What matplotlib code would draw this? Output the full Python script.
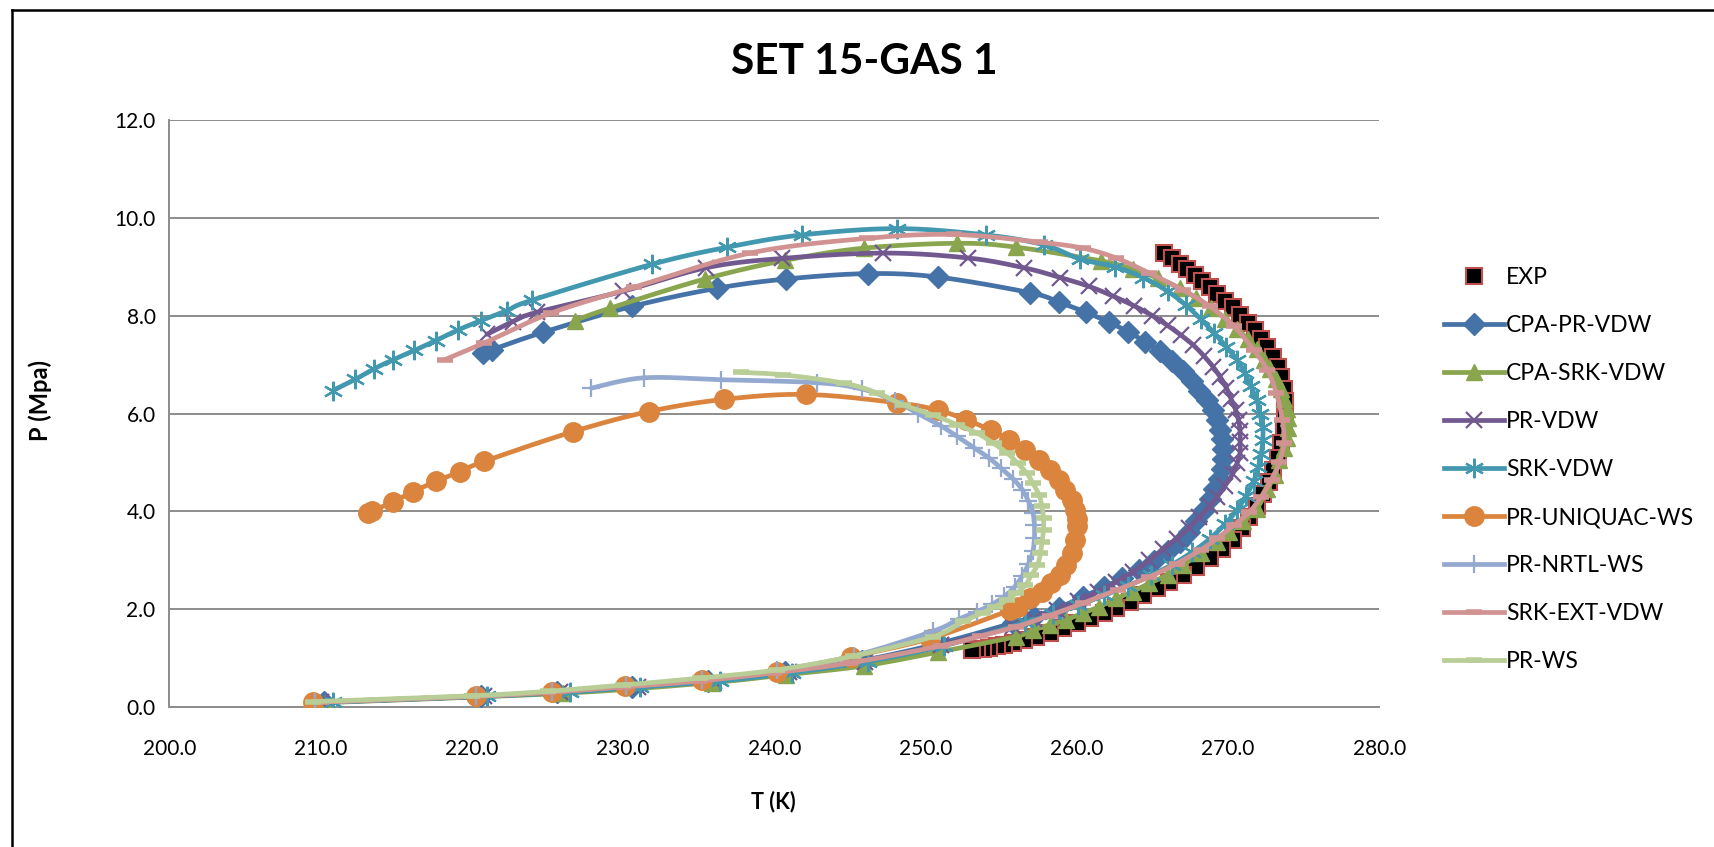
import numpy as np
import matplotlib
matplotlib.use('Agg')
import matplotlib.pyplot as plt
from matplotlib.lines import Line2D

plt.rcParams['font.family'] = ['Lato', 'DejaVu Sans']

# ---- data (T in K, P in MPa) ----
t_exp = [265.8, 266.3, 266.8, 267.3, 267.8, 268.3, 268.8, 269.3, 269.8, 270.3,
         270.8, 271.3, 271.8, 272.2, 272.6, 273.0, 273.3, 273.5, 273.7, 273.8,
         273.8, 273.7, 273.5, 273.3, 273.0, 272.7, 272.3, 271.9, 271.4, 270.9,
         270.3, 269.6, 268.8, 267.9, 267.0, 266.1, 265.3, 264.4, 263.5, 262.6,
         261.8, 260.9, 260.0, 259.1, 258.2, 257.3, 256.5, 255.8, 255.2, 254.7,
         254.2, 253.8, 253.4, 253.1]
p_exp = [9.28, 9.17, 9.06, 8.95, 8.83, 8.71, 8.58, 8.45, 8.31, 8.17,
         8.02, 7.86, 7.70, 7.53, 7.35, 7.15, 6.95, 6.74, 6.50, 6.25,
         6.00, 5.70, 5.40, 5.10, 4.85, 4.60, 4.35, 4.10, 3.88, 3.65,
         3.42, 3.22, 3.04, 2.87, 2.70, 2.56, 2.43, 2.29, 2.15, 2.03,
         1.92, 1.81, 1.71, 1.61, 1.51, 1.44, 1.37, 1.31, 1.27, 1.24,
         1.21, 1.19, 1.18, 1.17]

t_cpa_pr = [220.7, 221.3, 224.7, 230.6, 236.2, 240.8, 246.2, 250.8, 256.9, 258.8,
            260.6, 262.1, 263.4, 264.5, 265.5, 266.3, 267.0, 267.6, 268.1, 268.6,
            269.0, 269.3, 269.5, 269.6, 269.7, 269.7, 269.6, 269.4, 269.1, 268.8,
            268.4, 267.9, 267.4, 266.8, 266.0, 265.1, 264.1, 263.0, 261.8, 260.4,
            258.8, 257.2, 255.8, 250.9, 245.8, 240.7, 235.6, 230.6, 225.6, 220.6,
            210.2]
p_cpa_pr = [7.23, 7.30, 7.66, 8.19, 8.56, 8.75, 8.86, 8.79, 8.47, 8.28,
            8.07, 7.87, 7.67, 7.47, 7.27, 7.07, 6.87, 6.67, 6.47, 6.27,
            6.07, 5.87, 5.67, 5.47, 5.27, 5.07, 4.87, 4.67, 4.45, 4.25,
            4.03, 3.80, 3.58, 3.38, 3.18, 2.98, 2.80, 2.63, 2.45, 2.25,
            2.03, 1.85, 1.72, 1.30, 0.95, 0.71, 0.53, 0.41, 0.31, 0.22,
            0.10]

t_cpa_srk = [226.8, 229.1, 235.4, 240.7, 245.9, 252.1, 256.0, 261.6, 263.7, 265.4,
             266.8, 267.9, 268.9, 269.8, 270.6, 271.3, 271.9, 272.4, 272.8, 273.2,
             273.5, 273.7, 273.9, 274.0, 274.0, 273.9, 273.7, 273.4, 273.1, 272.6,
             271.9, 271.0, 270.1, 269.3, 268.2, 267.0, 266.0, 264.8, 263.7, 262.6,
             261.5, 260.4, 259.3, 258.2, 257.1, 256.0, 250.8, 245.9, 240.8, 235.9,
             226.0, 210.3]
p_cpa_srk = [7.90, 8.15, 8.75, 9.13, 9.38, 9.48, 9.40, 9.12, 8.95, 8.76,
             8.56, 8.36, 8.15, 7.94, 7.73, 7.52, 7.31, 7.10, 6.90, 6.70,
             6.50, 6.30, 6.10, 5.90, 5.70, 5.50, 5.30, 5.05, 4.75, 4.45,
             4.05, 3.80, 3.58, 3.38, 3.14, 2.90, 2.70, 2.53, 2.36, 2.22,
             2.05, 1.92, 1.78, 1.68, 1.57, 1.44, 1.12, 0.84, 0.66, 0.50,
             0.28, 0.09]

t_pr_vdw = [221.0, 222.7, 224.3, 230.0, 235.5, 240.5, 247.2, 252.8, 256.5, 258.9,
            260.8, 262.4, 263.8, 265.0, 266.0, 266.9, 267.7, 268.4, 269.0, 269.5,
            269.9, 270.2, 270.5, 270.7, 270.8, 270.8, 270.8, 270.6, 270.3, 269.8,
            269.3, 268.8, 268.1, 267.4, 266.6, 265.7, 264.8, 263.7, 262.6, 261.4,
            260.1, 258.7, 257.2, 255.8, 251.0, 246.0, 241.0, 236.0, 231.0, 225.8,
            220.8, 210.0]
p_pr_vdw = [7.62, 7.88, 8.07, 8.50, 8.98, 9.17, 9.28, 9.18, 8.98, 8.78,
            8.60, 8.40, 8.20, 8.00, 7.80, 7.60, 7.40, 7.18, 6.96, 6.74,
            6.52, 6.30, 6.08, 5.86, 5.64, 5.42, 5.20, 4.98, 4.76, 4.52,
            4.30, 4.10, 3.88, 3.66, 3.44, 3.22, 3.00, 2.76, 2.55, 2.36,
            2.16, 1.98, 1.80, 1.66, 1.27, 0.93, 0.71, 0.54, 0.41, 0.31,
            0.22, 0.10]

t_srk_vdw = [210.8, 212.3, 213.5, 214.8, 216.2, 217.6, 219.1, 220.6, 222.3, 224.0,
             231.9, 236.9, 241.8, 248.1, 254.0, 257.8, 260.2, 262.5, 264.4, 266.0,
             267.2, 268.2, 269.1, 269.9, 270.6, 271.1, 271.5, 271.9, 272.1, 272.3,
             272.3, 272.2, 272.0, 271.7, 271.2, 270.6, 269.8, 268.8, 267.6, 266.3,
             264.9, 263.4, 261.8, 260.1, 258.4, 256.6, 251.2, 246.2, 241.2, 236.4,
             231.1, 226.5, 221.0, 210.8]
p_srk_vdw = [6.47, 6.70, 6.91, 7.10, 7.29, 7.49, 7.71, 7.90, 8.10, 8.32,
             9.05, 9.40, 9.65, 9.78, 9.65, 9.45, 9.16, 9.00, 8.78, 8.50,
             8.22, 7.93, 7.64, 7.36, 7.10, 6.83, 6.56, 6.28, 6.00, 5.72,
             5.45, 5.18, 4.90, 4.62, 4.32, 4.03, 3.74, 3.44, 3.16, 2.91,
             2.69, 2.48, 2.28, 2.08, 1.90, 1.73, 1.25, 0.93, 0.70, 0.53,
             0.41, 0.30, 0.22, 0.10]

t_pr_uniquac = [213.1, 213.4, 214.8, 216.1, 217.6, 219.2, 220.8, 226.7, 231.7, 236.7,
                242.1, 248.1, 250.8, 252.7, 254.3, 255.5, 256.6, 257.5, 258.2, 258.8,
                259.2, 259.7, 259.9, 260.0, 260.0, 259.9, 259.7, 259.3, 258.9, 258.3,
                257.7, 256.9, 256.1, 255.6, 250.3, 245.1, 240.2, 235.2, 230.1, 225.3,
                220.3, 209.5]
p_pr_uniquac = [3.96, 4.00, 4.20, 4.40, 4.61, 4.81, 5.02, 5.63, 6.04, 6.29,
                6.39, 6.22, 6.07, 5.87, 5.66, 5.46, 5.26, 5.05, 4.85, 4.64,
                4.44, 4.23, 4.03, 3.85, 3.69, 3.42, 3.14, 2.90, 2.70, 2.53,
                2.36, 2.22, 2.05, 1.98, 1.40, 1.03, 0.72, 0.55, 0.42, 0.30,
                0.22, 0.10]

t_pr_nrtl = [227.9, 231.4, 236.5, 242.8, 245.8, 248.0, 249.5, 251.0, 252.1, 253.2,
             254.2, 255.0, 255.8, 256.4, 256.8, 257.1, 257.2, 257.2, 257.1, 256.8,
             256.4, 255.9, 255.2, 254.4, 253.4, 252.2, 250.5, 245.3, 240.2, 235.2,
             230.2, 225.3, 220.3, 209.6]
p_pr_nrtl = [6.52, 6.73, 6.69, 6.63, 6.50, 6.25, 6.00, 5.75, 5.53, 5.30,
             5.09, 4.88, 4.66, 4.44, 4.21, 3.97, 3.72, 3.45, 3.18, 2.92,
             2.68, 2.46, 2.26, 2.10, 1.95, 1.80, 1.55, 1.05, 0.75, 0.56,
             0.42, 0.31, 0.22, 0.10]

t_srk_ext = [218.2, 220.8, 225.2, 230.7, 238.4, 246.1, 251.9, 257.6, 260.4, 262.6,
             264.8, 267.0, 268.8, 270.4, 271.7, 272.6, 273.2, 273.6, 273.7, 273.4,
             272.9, 272.2, 271.4, 270.4, 269.3, 268.2, 266.6, 264.8, 262.7, 260.4,
             258.2, 256.0, 253.6, 251.0, 245.0, 240.0, 235.0, 230.0, 225.0, 220.0,
             210.0]
p_srk_ext = [7.10, 7.44, 8.05, 8.58, 9.28, 9.58, 9.66, 9.50, 9.38, 9.18,
             8.87, 8.53, 8.19, 7.78, 7.30, 6.89, 6.42, 5.87, 5.40, 5.00,
             4.65, 4.30, 3.98, 3.72, 3.45, 3.21, 2.93, 2.66, 2.40, 2.12,
             1.87, 1.64, 1.45, 1.25, 0.90, 0.70, 0.53, 0.41, 0.30, 0.22,
             0.10]

t_pr_ws = [237.8, 240.6, 244.6, 246.8, 248.5, 250.5, 252.1, 253.4, 254.5, 255.4,
           256.1, 256.7, 257.1, 257.5, 257.7, 257.8, 257.8, 257.7, 257.6, 257.4,
           257.0, 256.6, 256.0, 255.4, 254.6, 253.8, 252.5, 250.5, 245.2, 240.2,
           235.1, 230.0, 225.0, 220.0, 209.5]
p_pr_ws = [6.84, 6.79, 6.62, 6.42, 6.18, 5.97, 5.77, 5.60, 5.39, 5.19,
           4.98, 4.78, 4.57, 4.34, 4.10, 3.86, 3.62, 3.38, 3.14, 2.90,
           2.70, 2.49, 2.33, 2.19, 2.05, 1.93, 1.75, 1.44, 1.04, 0.76,
           0.59, 0.45, 0.32, 0.23, 0.11]


def smooth(xs, ys, n=14):
    # catmull-rom through the points, done in screen-like units like excel does
    sx, sy = 15.1, 48.9
    pts = np.column_stack([np.asarray(xs) * sx, np.asarray(ys) * sy])
    p = np.vstack([pts[0], pts, pts[-1]])
    t = np.linspace(0, 1, n, endpoint=False)[:, None]
    out = []
    for i in range(1, len(p) - 2):
        p0, p1, p2, p3 = p[i - 1], p[i], p[i + 1], p[i + 2]
        seg = 0.5 * (2 * p1 + (-p0 + p2) * t + (2 * p0 - 5 * p1 + 4 * p2 - p3) * t ** 2
                     + (-p0 + 3 * p1 - 3 * p2 + p3) * t ** 3)
        out.append(seg)
    out.append(pts[-1:])
    out = np.vstack(out)
    return out[:, 0] / sx, out[:, 1] / sy


fig = plt.figure(figsize=(17.15, 8.47), dpi=100)
ax = fig.add_axes([169.5 / 1715, 1 - 707 / 847, 1209.7 / 1715, 587 / 847])

series = [
    # label, T, P, color, marker, ms, mew
    ('CPA-PR-VDW', t_cpa_pr, p_cpa_pr, '#4572A7', 'D', 11, 1),
    ('CPA-SRK-VDW', t_cpa_srk, p_cpa_srk, '#89A54E', '^', 12, 1),
    ('PR-VDW', t_pr_vdw, p_pr_vdw, '#71588F', 'x', 12, 1.6),
    ('SRK-VDW', t_srk_vdw, p_srk_vdw, '#4198AF', (6, 2, 0), 14, 1.6),
    ('PR-UNIQUAC-WS', t_pr_uniquac, p_pr_uniquac, '#DB843D', 'o', 14, 1),
    ('PR-NRTL-WS', t_pr_nrtl, p_pr_nrtl, '#93A9CF', '+', 13, 1.6),
    ('SRK-EXT-VDW', t_srk_ext, p_srk_ext, '#D19392', '_', 12, 4),
    ('PR-WS', t_pr_ws, p_pr_ws, '#B9CD96', '_', 12, 4),
]

handles = []
labels = []

# experimental points first, underneath everything
ax.plot(t_exp, p_exp, ls='none', marker='s', ms=12, mfc='black', mec='#C0504D', mew=1.5, zorder=3)
handles.append(Line2D([], [], ls='none', marker='s', ms=12, mfc='black', mec='#C0504D', mew=1.5))
labels.append('EXP')

z = 4
for lab, tt, pp, col, mk, ms, mew in series:
    xs, ys = smooth(tt, pp)
    ax.plot(xs, ys, color=col, lw=3.4, solid_capstyle='round', zorder=z)
    ax.plot(tt, pp, ls='none', marker=mk, ms=ms, color=col, mec=col, mew=mew, zorder=z)
    z += 1
    handles.append(Line2D([], [], color=col, lw=3.4, marker=mk, ms=ms, mec=col, mew=mew))
    labels.append(lab)

ax.set_xlim(200, 280)
ax.set_ylim(0, 12)
ax.set_xticks(np.arange(200, 281, 10))
ax.set_yticks(np.arange(0, 12.1, 2))
ax.set_xticklabels(['%.1f' % v for v in np.arange(200, 281, 10)])
ax.set_yticklabels(['%.1f' % v for v in np.arange(0, 12.1, 2)])
ax.tick_params(axis='both', length=0, labelsize=15, colors='black')
ax.tick_params(axis='x', pad=23)
ax.tick_params(axis='y', pad=10)
ax.grid(axis='y', color='#8C8C8C', lw=1.4)
ax.set_axisbelow(True)
for s in ['top', 'right']:
    ax.spines[s].set_visible(False)
ax.spines['left'].set_color('#8C8C8C')
ax.spines['bottom'].set_color('#8C8C8C')
ax.spines['left'].set_linewidth(1.4)
ax.spines['bottom'].set_linewidth(1.4)

leg = ax.legend(handles, labels, loc='upper left', bbox_to_anchor=(1444 / 1715, 1 - 267 / 847),
                bbox_transform=fig.transFigure, frameon=False, fontsize=16.5,
                labelspacing=1.18, handlelength=2.6, handletextpad=0.1,
                borderpad=0, borderaxespad=0, numpoints=1)

fig.text(0.504, 1 - 62 / 847, 'SET 15-GAS 1', ha='center', va='center', fontsize=30.5, fontweight='bold')
fig.text(773 / 1715, 1 - 802 / 847, 'T (K)', ha='center', va='center', fontsize=15.5, fontweight='bold')
fig.text(40 / 1715, 1 - 400 / 847, 'P (Mpa)', ha='center', va='center', fontsize=17,
         fontweight='bold', rotation=90)

# chart border (left and top edges visible in the original)
fig.add_artist(Line2D([12 / 1715, 12 / 1715], [0, 1 - 10 / 847], transform=fig.transFigure, color='black', lw=1.8))
fig.add_artist(Line2D([12 / 1715, 1], [1 - 10 / 847, 1 - 10 / 847], transform=fig.transFigure, color='black', lw=1.8))

fig.savefig('out.png', dpi=100)
